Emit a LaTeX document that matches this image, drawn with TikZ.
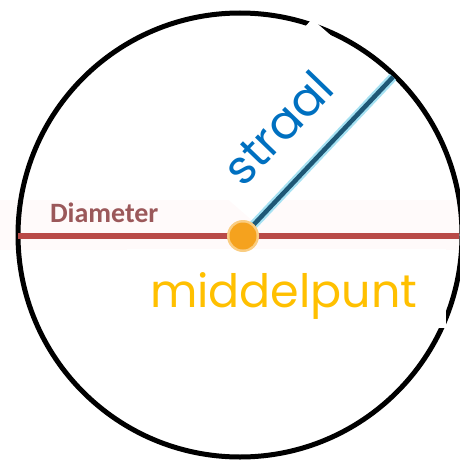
\documentclass[tikz,border=0pt]{standalone}
\usepackage{fontspec}
\setmainfont{Poppins}
\newfontfamily\calib{Carlito}
\definecolor{diamred}{RGB}{185,74,72}
\definecolor{diamtext}{RGB}{155,88,90}
\definecolor{strblue}{RGB}{0,112,192}
\definecolor{radcore}{RGB}{30,88,118}
\definecolor{radglow}{RGB}{165,225,242}
\definecolor{midyel}{RGB}{255,192,0}
\definecolor{dotor}{RGB}{245,162,30}
\definecolor{dothalo}{RGB}{250,205,130}
\definecolor{bandpink}{RGB}{255,250,250}
\tikzset{
  rim/.style={draw=black, line width=5pt},
  diamline/.style={draw=diamred, line width=5.5pt},
  radglowline/.style={draw=radglow, line width=9pt},
  radcoreline/.style={draw=radcore, line width=4.5pt},
  cover/.style={fill=white},
  lbl/.style={inner sep=0pt, outer sep=0pt}
}
\begin{document}
\begin{tikzpicture}[x=1pt,y=-1pt]
\useasboundingbox (0,0) rectangle (459,460);
\fill[white] (0,0) rectangle (459,460);
\fill[bandpink] (0,200) rectangle (459,250);
\coordinate (O) at (240,235);
\draw[rim] (O) circle[radius=222];
% white patches that cut the rim
\fill[cover] (127,249) rectangle (446,328);
\fill[cover] (312,19) -- (381,79) -- (254,222) -- (185,162) -- cycle;
% diameter
\coordinate (W) at (18,236);
\coordinate (E) at (459,236);
\draw[diamline] (W) -- (E);
% radius
\coordinate (M) at (243,236);
\coordinate (R) at (393,77);
\draw[radglowline] (M) -- (R);
\draw[radcoreline] (M) -- (R);
% centre dot
\fill[dothalo] (M) circle[radius=16];
\fill[dotor] (M) circle[radius=13.5];
% labels
\node[lbl, anchor=base west, text=diamtext, font={\calib\bfseries\fontsize{28}{28}\selectfont}] (dl) at (50,222) {Diameter};
\node[lbl, anchor=base west, text=midyel, font={\fontsize{46}{46}\selectfont}] (ml) at (150,307) {middelpunt};
\node[lbl, anchor=base west, rotate=46, text=strblue, font={\fontsize{47}{47}\selectfont}] (sl) at (243,188) {straal};
\end{tikzpicture}
\end{document}
